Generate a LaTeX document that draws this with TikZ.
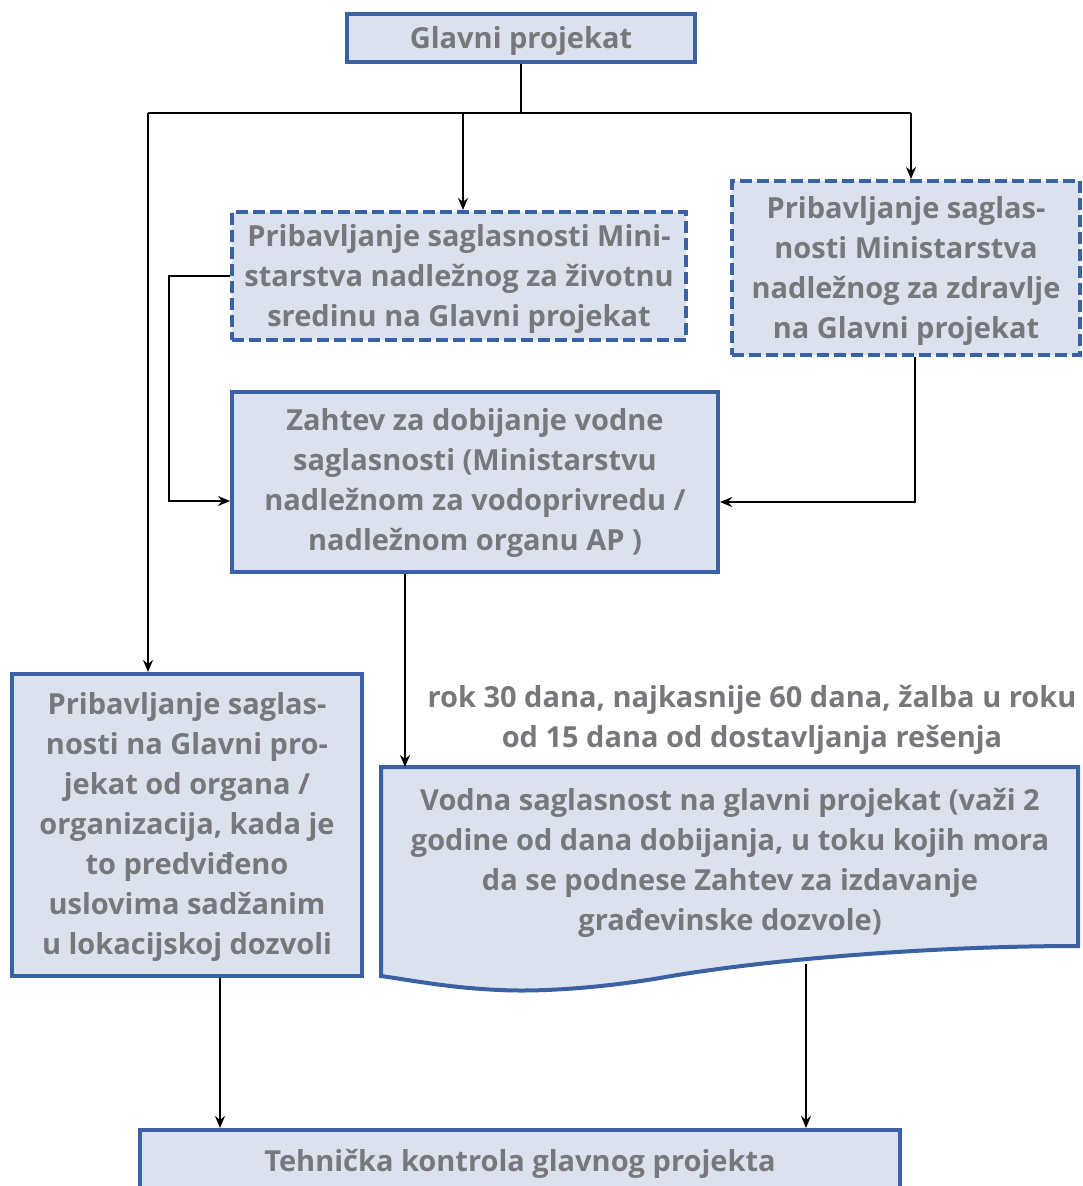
\documentclass[tikz,border=0pt]{standalone}
\usepackage{fontspec}
\setmainfont{Open Sans}
\usetikzlibrary{arrows.meta,calc}
\definecolor{boxfill}{RGB}{220,225,238}
\definecolor{boxline}{RGB}{58,97,163}
\definecolor{txtgray}{RGB}{119,120,123}
\tikzset{
  base/.style={draw=boxline, fill=boxfill, line width=4pt, rectangle, inner sep=0pt},
  solidbox/.style={base},
  dashbox/.style={base, dash pattern=on 12pt off 5pt},
  lbl/.style={text=txtgray, align=center, font=\fontsize{29}{40}\selectfont\bfseries, inner sep=0pt},
  conn/.style={draw=black, line width=2pt},
  arr/.style={conn, -{Stealth[length=12pt,width=10pt]}}
}
\begin{document}
\begin{tikzpicture}[x=1pt,y=-1pt]
\useasboundingbox (0,0) rectangle (1082,1186);
\clip (0,0) rectangle (1082,1186);
% boxes
\node[solidbox, minimum width=348pt, minimum height=48pt] (gp) at (521,38) {};
\node[lbl, yshift=-3pt] (gpt) at (gp.center) {Glavni projekat};
\node[dashbox, minimum width=454pt, minimum height=128pt] (b2) at (459,276) {};
\node[lbl, yshift=-3pt] (b2t) at (b2.center)
  {Pribavljanje saglasnosti Mini-\\starstva nadležnog za životnu\\sredinu na Glavni projekat};
\node[dashbox, minimum width=348pt, minimum height=174pt] (b3) at (906,268) {};
\node[lbl, yshift=-3pt] (b3t) at (b3.center)
  {Pribavljanje saglas-\\nosti Ministarstva\\nadležnog za zdravlje\\na Glavni projekat};
\node[solidbox, minimum width=486pt, minimum height=180pt] (b4) at (475,482) {};
\node[lbl, yshift=-1pt] (b4t) at (b4.center)
  {Zahtev za dobijanje vodne\\saglasnosti (Ministarstvu\\nadležnom za vodoprivredu /\\nadležnom organu AP )};
\node[solidbox, minimum width=350pt, minimum height=302pt] (b5) at (187,825) {};
\node[lbl, yshift=-2pt] (b5t) at (b5.center)
  {Pribavljanje saglas-\\nosti na Glavni pro-\\jekat od organa /\\organizacija, kada je\\to predviđeno\\uslovima sadžanim\\u lokacijskoj dozvoli};
% document shape
\draw[draw=boxline, fill=boxfill, line width=4pt]
  (381,767) -- (1078,767) -- (1078,946)
  .. controls (930,946) and (760,960) .. (660,978)
  .. controls (600,988) and (540,992) .. (500,990)
  .. controls (450,988) and (410,980) .. (381,976) -- cycle;
\node[lbl] (doc) at (730,863)
  {Vodna saglasnost na glavni projekat (važi 2\\godine od dana dobijanja, u toku kojih mora\\da se podnese Zahtev za izdavanje\\građevinske dozvole)};
\coordinate (doctop) at (405,767);
\coordinate (docb) at (806,964);
\node[lbl] (rok) at (752,720)
  {rok 30 dana, najkasnije 60 dana, žalba u roku\\od 15 dana od dostavljanja rešenja};
\node[solidbox, minimum width=760pt, minimum height=62pt] (b6) at (520,1161) {};
\node[lbl, yshift=-3pt] (b6t) at (b6.center) {Tehnička kontrola glavnog projekta};
% connectors
\coordinate (busL) at (148,113);
\coordinate (busR) at (911,113);
\draw[conn] (gp.south) -- (gp.south |- busL);
\draw[conn] (busL) -- (busR);
\draw[arr] (busL) -- (busL |- b5.north);
\draw[arr] (busR) -- (busR |- b3.north);
\draw[arr] ([xshift=4pt]b2.north |- busL) -- ([xshift=4pt]b2.north);
\coordinate (lk) at (169,501);
\draw[arr] (b2.west) -| (lk) -- (lk -| b4.west);
\coordinate (rk) at (915,502);
\draw[arr] (rk |- b3.south) -- (rk) -- (rk -| b4.east);
\draw[arr] (doctop |- b4.south) -- (doctop);
\draw[arr] ([xshift=33pt]b5.south) -- ([xshift=33pt]b5.south |- b6.north);
\draw[arr] (docb) -- (docb |- b6.north);
\end{tikzpicture}
\end{document}
